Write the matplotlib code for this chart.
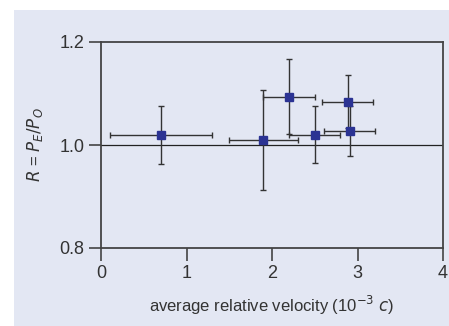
import matplotlib
matplotlib.use("Agg")
import matplotlib.pyplot as plt
from matplotlib.patches import Rectangle

plt.rcParams['font.family'] = ['Liberation Sans Narrow', 'Liberation Sans', 'DejaVu Sans']
plt.rcParams['mathtext.fontset'] = 'custom'
plt.rcParams['mathtext.rm'] = 'Liberation Sans Narrow'
plt.rcParams['mathtext.it'] = 'Liberation Sans Narrow:italic'

# data
velocity = [0.7, 1.9, 2.2, 2.5, 2.885, 2.91]
velocity_err = [0.6, 0.4, 0.3, 0.3, 0.3, 0.3]
ratio = [1.020, 1.009, 1.094, 1.020, 1.084, 1.027]
ratio_err = [0.056, 0.097, 0.073, 0.055, 0.051, 0.049]
xticks = [0, 1, 2, 3, 4]
yticks = [0.8, 1.0, 1.2]

bg = '#e3e7f3'
fig = plt.figure(figsize=(4.49, 3.26), dpi=100)
fig.patch.set_facecolor('white')
fig.patches.append(Rectangle((14 / 449, 0), 1, 1 - 10 / 326, transform=fig.transFigure,
                             facecolor=bg, edgecolor='none', zorder=-10))

ax = fig.add_axes([101 / 449, 1 - 248 / 326, 342 / 449, 206 / 326])
ax.set_facecolor(bg)

ax.axhline(1.0, color='#222222', lw=0.9, zorder=1)
ax.errorbar(velocity, ratio, xerr=velocity_err, yerr=ratio_err, fmt='s',
            color='#2b3393', markersize=5.3, ecolor='#333333', elinewidth=1.0,
            capsize=2.5, capthick=1.0, zorder=3)

ax.set_xlim(0, 4)
ax.set_ylim(0.8, 1.2)
ax.set_xticks(xticks)
ax.set_xticklabels([str(t) for t in xticks])
ax.set_yticks(yticks)
ax.set_yticklabels(['%.1f' % t for t in yticks])

for s in ax.spines.values():
    s.set_color('#444444')
    s.set_linewidth(1.3)
ax.tick_params(direction='out', length=9, width=1.2, color='#444444',
               labelsize=13, labelcolor='#333333', pad=3)

ax.set_xlabel('average relative velocity (10$^{-3}$ $c$)', fontsize=12,
              color='#333333', labelpad=9)
ax.set_ylabel('$R$ = $P_E/P_O$', fontsize=12, color='#333333', labelpad=10)

fig.savefig('out.png', dpi=100, facecolor=fig.get_facecolor())
